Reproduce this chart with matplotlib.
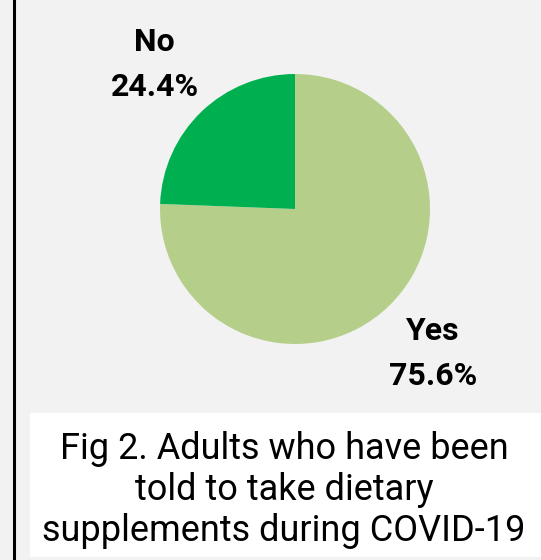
import matplotlib.pyplot as plt
from matplotlib.patches import Rectangle

# Share of adults told to take supplements
labels = ['Yes', 'No']
shares = [75.6, 24.4]
colors = ['#b5cf8b', '#00b050']

plt.rcParams['font.family'] = ['Roboto', 'DejaVu Sans']

fig = plt.figure(figsize=(5.41, 5.60), dpi=100, facecolor='#f2f2f2')

# left frame line
fig.add_artist(plt.Line2D([13.5 / 541, 13.5 / 541], [0, 1], color='black', lw=2.2,
                          transform=fig.transFigure))

ax = fig.add_axes([160 / 541, 216 / 560, 270 / 541, 270 / 560])
ax.pie(shares, colors=colors, startangle=90, counterclock=False, radius=1,
       wedgeprops=dict(linewidth=0))
ax.set_xlim(-1, 1)
ax.set_ylim(-1, 1)
ax.set_aspect('equal')
ax.axis('off')

# slice labels
ax.text(-1.04, 1.07, f'{labels[1]}\n{shares[1]:.1f}%', ha='center', va='center',
        fontsize=23, fontweight='bold', linespacing=1.65, clip_on=False)
ax.text(1.02, -1.07, f'{labels[0]}\n{shares[0]:.1f}%', ha='center', va='center',
        fontsize=23, fontweight='bold', linespacing=1.65, clip_on=False)

# caption box
fig.add_artist(Rectangle((30 / 541, 3 / 560), 511 / 541, 144 / 560, facecolor='white',
                         edgecolor='none', transform=fig.transFigure))
fig.text(284 / 541, (560 - 490) / 560,
         'Fig 2. Adults who have been\ntold to take dietary\nsupplements during COVID-19',
         ha='center', va='center', fontsize=26, linespacing=1.17)

fig.savefig('out.png', dpi=100, facecolor=fig.get_facecolor())
